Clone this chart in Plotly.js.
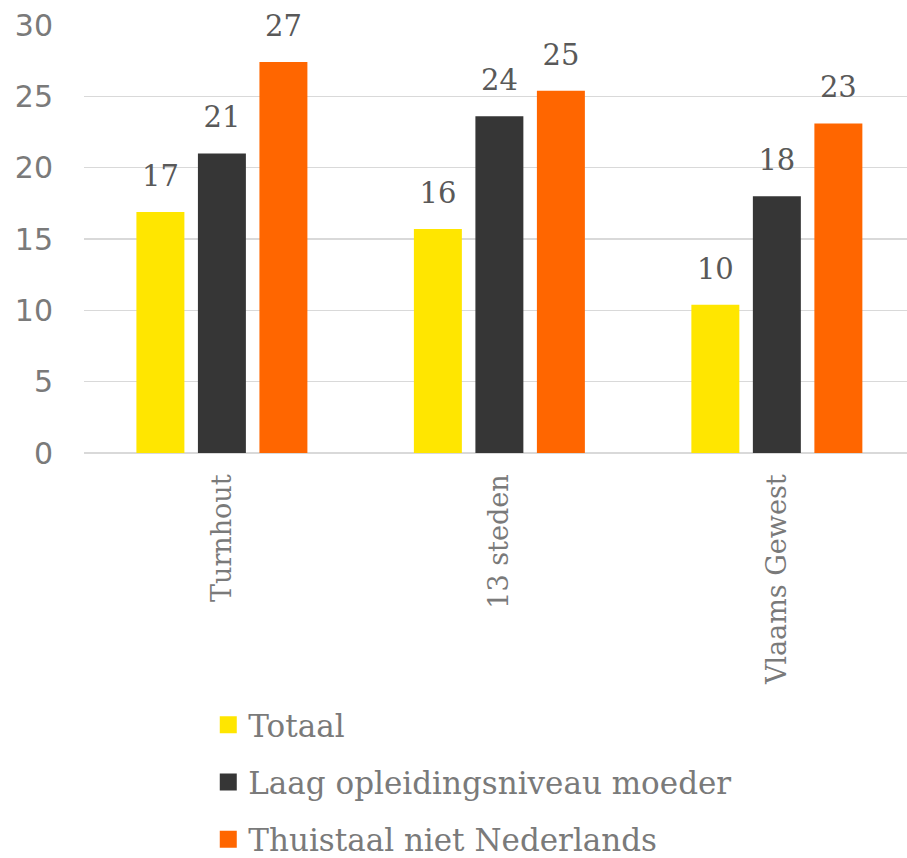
<!DOCTYPE html>
<html>
<head>
<meta charset="utf-8">
<script src="https://cdn.plot.ly/plotly-3.0.1.min.js"></script>
<style>html,body{margin:0;padding:0;background:#fff}#chart{width:907px;height:858px}</style>
</head>
<body>
<div id="chart"></div>
<script>
const categories = ["Turnhout", "13 steden", "Vlaams Gewest"];
const seriesNames = ["Totaal", "Laag opleidingsniveau moeder", "Thuistaal niet Nederlands"];
const totaal = [16.9, 15.7, 10.4];
const laagOpleiding = [21.0, 23.6, 18.0];
const thuistaal = [27.4, 25.4, 23.1];
const colors = ["#FFE600", "#363636", "#FF6600"];

const serif = "DejaVu Serif, Liberation Serif, serif";
const gray = "#7a7a7a";

const values = [totaal, laagOpleiding, thuistaal];
const traces = values.map((v, i) => ({
  type: "bar",
  name: seriesNames[i],
  x: categories,
  y: v,
  marker: {color: colors[i]},
  texttemplate: "%{y:.0f}",
  textposition: "outside",
  cliponaxis: false,
  textfont: {family: serif, size: 29, color: "#595959"},
  legendgroup: "g" + i,
  hoverinfo: "skip"
}));

const layout = {
  width: 907, height: 858,
  margin: {l: 84, r: 0, t: 25, b: 405, autoexpand: false},
  paper_bgcolor: "#fff", plot_bgcolor: "#fff",
  barmode: "group",
  bargap: 0.335,
  bargroupgap: 0.22,
  showlegend: true,
  legend: {
    x: 0.151, xanchor: "left",
    yref: "container", y: 0.1865, yanchor: "top",
    orientation: "v",
    traceorder: "grouped",
    tracegroupgap: 14,
    font: {family: serif, size: 31, color: gray}
  },
  xaxis: {
    type: "category",
    range: [-0.497, 2.469],
    tickangle: -90,
    tickfont: {family: serif, size: 27, color: gray},
    showgrid: false,
    showline: false,
    ticks: "",
    automargin: false,
    ticklabelstandoff: 15
  },
  yaxis: {
    range: [0, 30],
    dtick: 5,
    tick0: 0,
    showgrid: true,
    gridcolor: "#d9d9d9",
    gridwidth: 1.5,
    zeroline: true,
    zerolinecolor: "#d9d9d9",
    zerolinewidth: 1.5,
    ticks: "",
    automargin: false,
    tickfont: {family: "DejaVu Sans, sans-serif", size: 30, color: gray},
    ticklabelstandoff: 30
  }
};

function restyleMarks() {
  document.querySelectorAll("#chart text.bartext").forEach(t => {
    const tr = t.getAttribute("transform") || "";
    if (!t.dataset.shifted) {
      t.setAttribute("transform", "translate(0,-16) " + tr);
      t.dataset.shifted = "1";
    }
  });
  document.querySelectorAll("#chart .legendpoints path").forEach(p => {
    p.setAttribute("d", "M8.5,8.5H-8.5V-8.5H8.5Z");
  });
}

Plotly.newPlot("chart", traces, layout, {displayModeBar: false, staticPlot: true}).then(restyleMarks);
</script>
</body>
</html>
